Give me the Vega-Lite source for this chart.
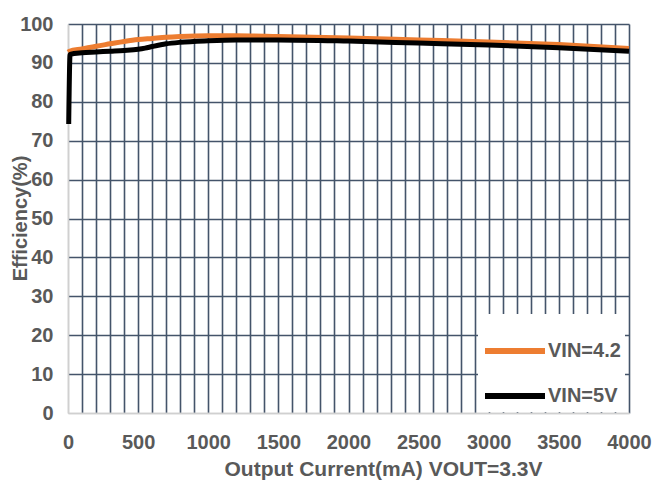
{
  "$schema": "https://vega.github.io/schema/vega-lite/v6.json",
  "width": 561,
  "height": 389,
  "autosize": {"type": "none"},
  "padding": {"left": 68, "top": 24, "right": 23, "bottom": 72},
  "background": "white",
  "config": {
    "view": {"stroke": null},
    "font": "Liberation Sans"
  },
  "data": {
    "values": [
      {"I": 0, "eff": 92.8, "s": "VIN=4.2"},
      {"I": 10, "eff": 93.0, "s": "VIN=4.2"},
      {"I": 100, "eff": 93.6, "s": "VIN=4.2"},
      {"I": 200, "eff": 94.3, "s": "VIN=4.2"},
      {"I": 300, "eff": 94.9, "s": "VIN=4.2"},
      {"I": 400, "eff": 95.5, "s": "VIN=4.2"},
      {"I": 500, "eff": 96.0, "s": "VIN=4.2"},
      {"I": 600, "eff": 96.3, "s": "VIN=4.2"},
      {"I": 700, "eff": 96.6, "s": "VIN=4.2"},
      {"I": 800, "eff": 96.8, "s": "VIN=4.2"},
      {"I": 1000, "eff": 97.0, "s": "VIN=4.2"},
      {"I": 1200, "eff": 97.0, "s": "VIN=4.2"},
      {"I": 1500, "eff": 96.8, "s": "VIN=4.2"},
      {"I": 2000, "eff": 96.4, "s": "VIN=4.2"},
      {"I": 2500, "eff": 95.9, "s": "VIN=4.2"},
      {"I": 3000, "eff": 95.4, "s": "VIN=4.2"},
      {"I": 3500, "eff": 94.7, "s": "VIN=4.2"},
      {"I": 4000, "eff": 93.7, "s": "VIN=4.2"},
      {"I": 5, "eff": 74.3, "s": "VIN=5V"},
      {"I": 15, "eff": 92.2, "s": "VIN=5V"},
      {"I": 100, "eff": 92.6, "s": "VIN=5V"},
      {"I": 200, "eff": 92.8, "s": "VIN=5V"},
      {"I": 300, "eff": 93.0, "s": "VIN=5V"},
      {"I": 400, "eff": 93.2, "s": "VIN=5V"},
      {"I": 500, "eff": 93.5, "s": "VIN=5V"},
      {"I": 550, "eff": 93.8, "s": "VIN=5V"},
      {"I": 600, "eff": 94.2, "s": "VIN=5V"},
      {"I": 700, "eff": 94.9, "s": "VIN=5V"},
      {"I": 800, "eff": 95.3, "s": "VIN=5V"},
      {"I": 1000, "eff": 95.7, "s": "VIN=5V"},
      {"I": 1200, "eff": 95.9, "s": "VIN=5V"},
      {"I": 1500, "eff": 95.9, "s": "VIN=5V"},
      {"I": 2000, "eff": 95.6, "s": "VIN=5V"},
      {"I": 2500, "eff": 95.1, "s": "VIN=5V"},
      {"I": 3000, "eff": 94.6, "s": "VIN=5V"},
      {"I": 3500, "eff": 93.9, "s": "VIN=5V"},
      {"I": 4000, "eff": 93.0, "s": "VIN=5V"}
    ]
  },
  "mark": {"type": "line", "strokeWidth": 5, "interpolate": "monotone"},
  "encoding": {
    "x": {
      "field": "I", "type": "quantitative",
      "scale": {"domain": [0, 4000], "nice": false},
      "axis": {
        "values": [0,100,200,300,400,500,600,700,800,900,1000,1100,1200,1300,1400,1500,1600,1700,1800,1900,2000,2100,2200,2300,2400,2500,2600,2700,2800,2900,3000,3100,3200,3300,3400,3500,3600,3700,3800,3900,4000],
        "labelExpr": "datum.value % 500 === 0 ? datum.label : ''",
        "format": "d",
        "title": "Output Current(mA) VOUT=3.3V",
        "grid": true,
        "gridColor": {"condition": {"test": "datum.value === 0", "value": "#d0d0d0"}, "value": "#44546a"},
        "gridWidth": 1.6,
        "ticks": false,
        "domainColor": "#d0d0d0",
        "domainWidth": 1.5,
        "labelFont": "Liberation Sans",
        "labelFontSize": 20,
        "labelFontWeight": "bold",
        "labelColor": "#595959",
        "labelPadding": 19,
        "labelFlush": false,
        "labelOverlap": false,
        "titleFont": "Liberation Sans",
        "titleFontSize": 21,
        "titleFontWeight": "bold",
        "titleColor": "#595959",
        "titleX": 315,
        "titleY": 62,
        "titleAlign": "center",
        "titleBaseline": "alphabetic"
      }
    },
    "y": {
      "field": "eff", "type": "quantitative",
      "scale": {"domain": [0, 100], "nice": false},
      "axis": {
        "values": [0,10,20,30,40,50,60,70,80,90,100],
        "title": "Efficiency(%)",
        "grid": true,
        "gridColor": {"condition": {"test": "datum.value === 0", "value": "#d0d0d0"}, "value": "#44546a"},
        "gridWidth": 1.6,
        "ticks": false,
        "domainColor": "#d0d0d0",
        "domainWidth": 1.5,
        "labelFont": "Liberation Sans",
        "labelFontSize": 20,
        "labelFontWeight": "bold",
        "labelColor": "#595959",
        "labelPadding": 15,
        "labelFlush": false,
        "titleFont": "Liberation Sans",
        "titleFontSize": 20,
        "titleFontWeight": "bold",
        "titleColor": "#595959",
        "titleX": -38,
        "titleY": 194,
        "titleAlign": "center",
        "titleBaseline": "bottom"
      }
    },
    "color": {
      "field": "s", "type": "nominal",
      "scale": {"domain": ["VIN=4.2", "VIN=5V"], "range": ["#ed7d31", "#000000"]},
      "legend": {
        "title": null,
        "orient": "none",
        "legendX": 410,
        "legendY": 290,
        "fillColor": "white",
        "padding": 4,
        "symbolType": "stroke",
        "symbolSize": 3600,
        "symbolStrokeWidth": 6,
        "labelFont": "Liberation Sans",
        "labelFontSize": 20,
        "labelFontWeight": "bold",
        "labelColor": "#595959",
        "labelOffset": 0,
        "rowPadding": -10
      }
    }
  }
}
